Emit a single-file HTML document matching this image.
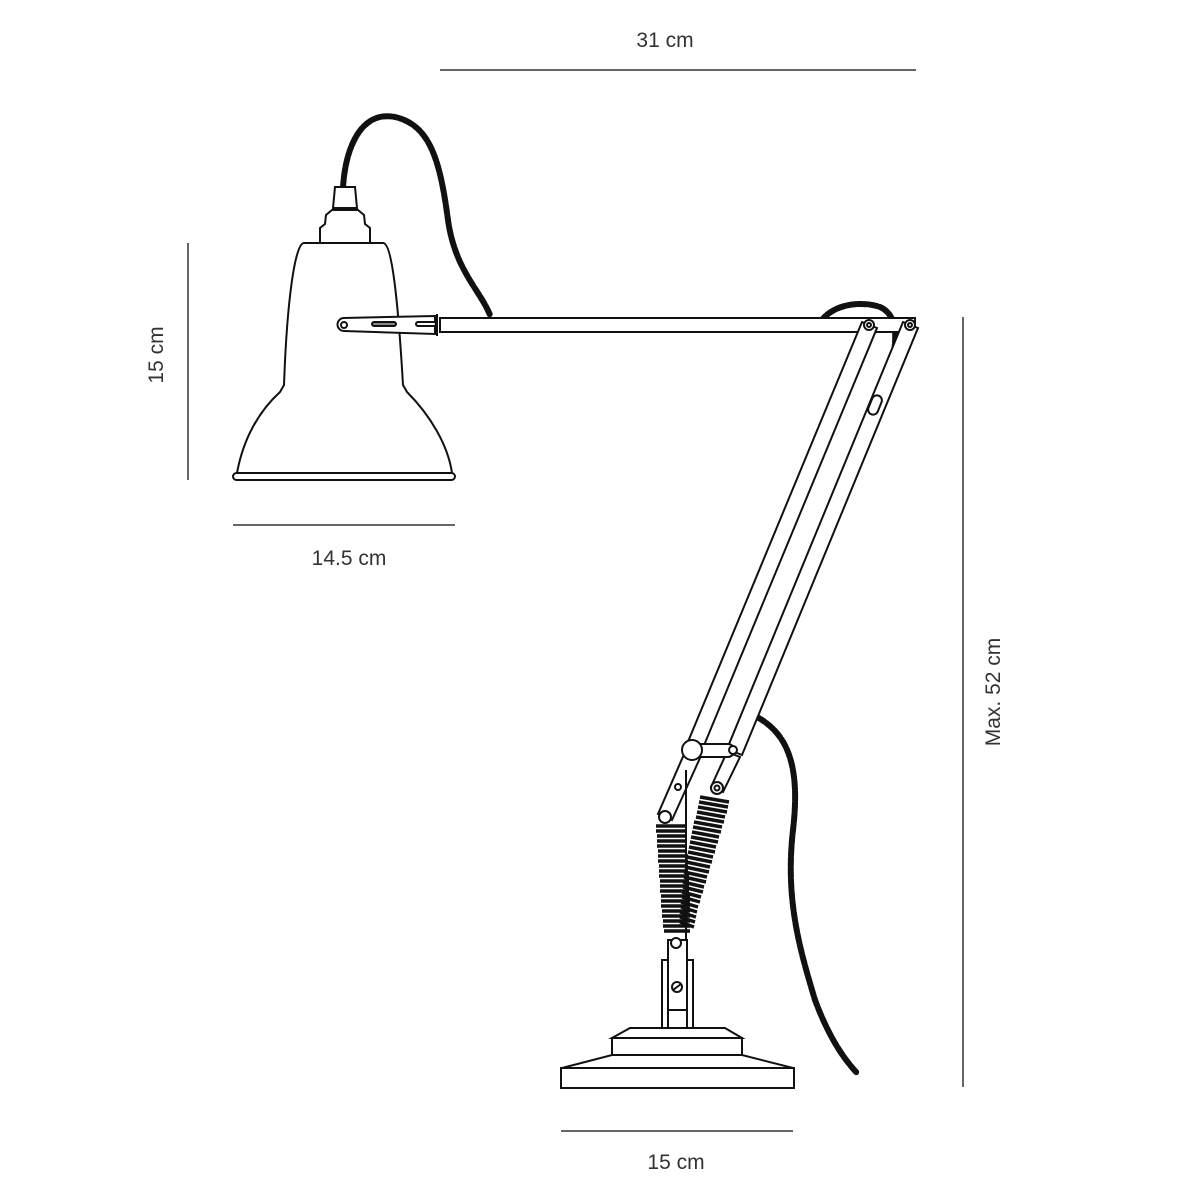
<!DOCTYPE html>
<html><head><style>html,body{margin:0;background:#fff}svg{display:block}</style></head><body>
<svg width="1200" height="1200" viewBox="0 0 1200 1200" xmlns="http://www.w3.org/2000/svg">
<g font-family="Liberation Sans, sans-serif" font-size="21" fill="#333" text-anchor="middle">
<text x="665" y="47">31 cm</text>
<text x="349" y="565">14.5 cm</text>
<text x="676" y="1169">15 cm</text>
<text transform="translate(163,355) rotate(-90)">15 cm</text>
<text transform="translate(1000,692) rotate(-90)">Max. 52 cm</text>
</g>
<g stroke="#333" stroke-width="1.5">
<line x1="440" y1="70" x2="916" y2="70"/>
<line x1="188" y1="243" x2="188" y2="480"/>
<line x1="233" y1="525" x2="455" y2="525"/>
<line x1="963" y1="317" x2="963" y2="1087"/>
<line x1="561" y1="1131" x2="793" y2="1131"/>
</g>
<g fill="none" stroke="#111" stroke-width="6" stroke-linecap="round" stroke-dasharray="9 2">
<path d="M343,188 C345,150 360,110 395,117 C430,125 440,160 448,220 C455,270 480,290 490,315"/>
<path d="M757,717 C790,735 800,770 793,830 C785,900 800,950 815,1000 C830,1040 845,1060 857,1073"/>
<path d="M820,323 C830,305 860,300 880,307 C905,318 895,360 880,405"/>
</g>
<g fill="#fff" stroke="#111" stroke-width="2">
<path d="M333,208 L335,187 L355,187 L357,208 Z"/>
<path d="M320,243 L320,228 L325,224 L326,215 L332,210 L358,210 L364,215 L365,224 L370,228 L370,243 Z"/>
<path d="M304,243 L383,243 C392,243 398,300 403,385 L407,392 C430,415 448,445 452,473 L237,473 C243,440 258,412 280,392 L284,385 C287,300 295,243 304,243 Z"/>
<rect x="233" y="473" width="222" height="7" rx="3.5"/>
<rect x="440" y="318" width="475" height="14"/>
<path d="M344,318 L435,316 L435,334 L344,331 A6.5,6.5 0 0 1 344,318 Z"/>
<line x1="437" y1="314" x2="437" y2="336"/>
<circle cx="344" cy="325" r="3"/>
<rect x="372" y="322" width="24" height="4" rx="2" fill="#888"/>
<rect x="416" y="322" width="20" height="4" rx="2"/>
<path d="M862,322 L877,328 L700,755 L685,749 Z"/>
<path d="M903,322 L918,328 L742,755 L727,749 Z"/>
<circle cx="869" cy="325" r="5"/><circle cx="869" cy="325" r="2"/>
<circle cx="910" cy="325" r="5"/><circle cx="910" cy="325" r="2"/>
<rect x="870" y="395" width="10" height="20" rx="5" transform="rotate(22 875 405)"/>
<path d="M685,752 L700,758 L672,820 L658,814 Z"/>
<path d="M727,752 L740,757 L723,792 L711,787 Z"/>
<rect x="692" y="744" width="42" height="13" rx="6"/>
<circle cx="733" cy="750" r="4"/>
<line x1="686" y1="770" x2="686" y2="940"/>
<circle cx="678" cy="787" r="3"/>
<circle cx="665" cy="817" r="6"/><circle cx="717" cy="788" r="6"/><circle cx="717" cy="788" r="2.5"/>
<circle cx="692" cy="750" r="10"/>
<rect x="662" y="960" width="31" height="70"/>
<rect x="668" y="940" width="19" height="90"/>
<line x1="668" y1="1010" x2="687" y2="1010"/>
<circle cx="677" cy="987" r="5"/><line x1="673" y1="990" x2="681" y2="984"/>
<path d="M612,1038 L630,1028 L725,1028 L742,1038 Z"/>
<rect x="612" y="1038" width="130" height="17"/>
<path d="M562,1068 L612,1055 L742,1055 L793,1068 Z"/>
<rect x="561" y="1068" width="233" height="20"/>
</g>
<g stroke="#111" stroke-width="3.5">
<line x1="656" y1="826" x2="686" y2="826"/><line x1="656" y1="831" x2="686" y2="831"/><line x1="657" y1="836" x2="687" y2="836"/><line x1="657" y1="841" x2="687" y2="841"/><line x1="657" y1="846" x2="687" y2="846"/><line x1="658" y1="851" x2="687" y2="851"/><line x1="658" y1="856" x2="688" y2="856"/><line x1="658" y1="861" x2="688" y2="861"/><line x1="659" y1="866" x2="688" y2="866"/><line x1="659" y1="871" x2="688" y2="871"/><line x1="659" y1="876" x2="689" y2="876"/><line x1="660" y1="881" x2="689" y2="881"/><line x1="660" y1="886" x2="689" y2="886"/><line x1="660" y1="891" x2="689" y2="891"/><line x1="661" y1="896" x2="690" y2="896"/><line x1="661" y1="901" x2="690" y2="901"/><line x1="661" y1="906" x2="690" y2="906"/><line x1="662" y1="911" x2="690" y2="911"/><line x1="662" y1="916" x2="690" y2="916"/><line x1="663" y1="921" x2="690" y2="921"/><line x1="663" y1="926" x2="690" y2="926"/><line x1="664" y1="931" x2="690" y2="931"/>
<line x1="700" y1="797" x2="729" y2="802"/><line x1="699" y1="802" x2="728" y2="807"/><line x1="698" y1="807" x2="727" y2="812"/><line x1="697" y1="812" x2="725" y2="817"/><line x1="696" y1="817" x2="724" y2="822"/><line x1="694" y1="822" x2="722" y2="827"/><line x1="693" y1="827" x2="721" y2="832"/><line x1="692" y1="832" x2="719" y2="837"/><line x1="691" y1="837" x2="718" y2="842"/><line x1="690" y1="842" x2="716" y2="847"/><line x1="689" y1="847" x2="715" y2="852"/><line x1="688" y1="852" x2="713" y2="857"/><line x1="687" y1="857" x2="712" y2="862"/><line x1="686" y1="862" x2="710" y2="867"/><line x1="685" y1="867" x2="709" y2="872"/><line x1="684" y1="872" x2="707" y2="877"/><line x1="684" y1="877" x2="706" y2="882"/><line x1="683" y1="882" x2="704" y2="887"/><line x1="683" y1="887" x2="703" y2="892"/><line x1="682" y1="892" x2="701" y2="897"/><line x1="682" y1="897" x2="700" y2="902"/><line x1="681" y1="902" x2="698" y2="907"/><line x1="681" y1="907" x2="697" y2="912"/><line x1="680" y1="912" x2="696" y2="917"/><line x1="680" y1="917" x2="695" y2="922"/><line x1="680" y1="922" x2="694" y2="927"/>
</g>
<circle cx="676" cy="943" r="5" fill="#fff" stroke="#111" stroke-width="2"/>
</svg>
</body></html>
